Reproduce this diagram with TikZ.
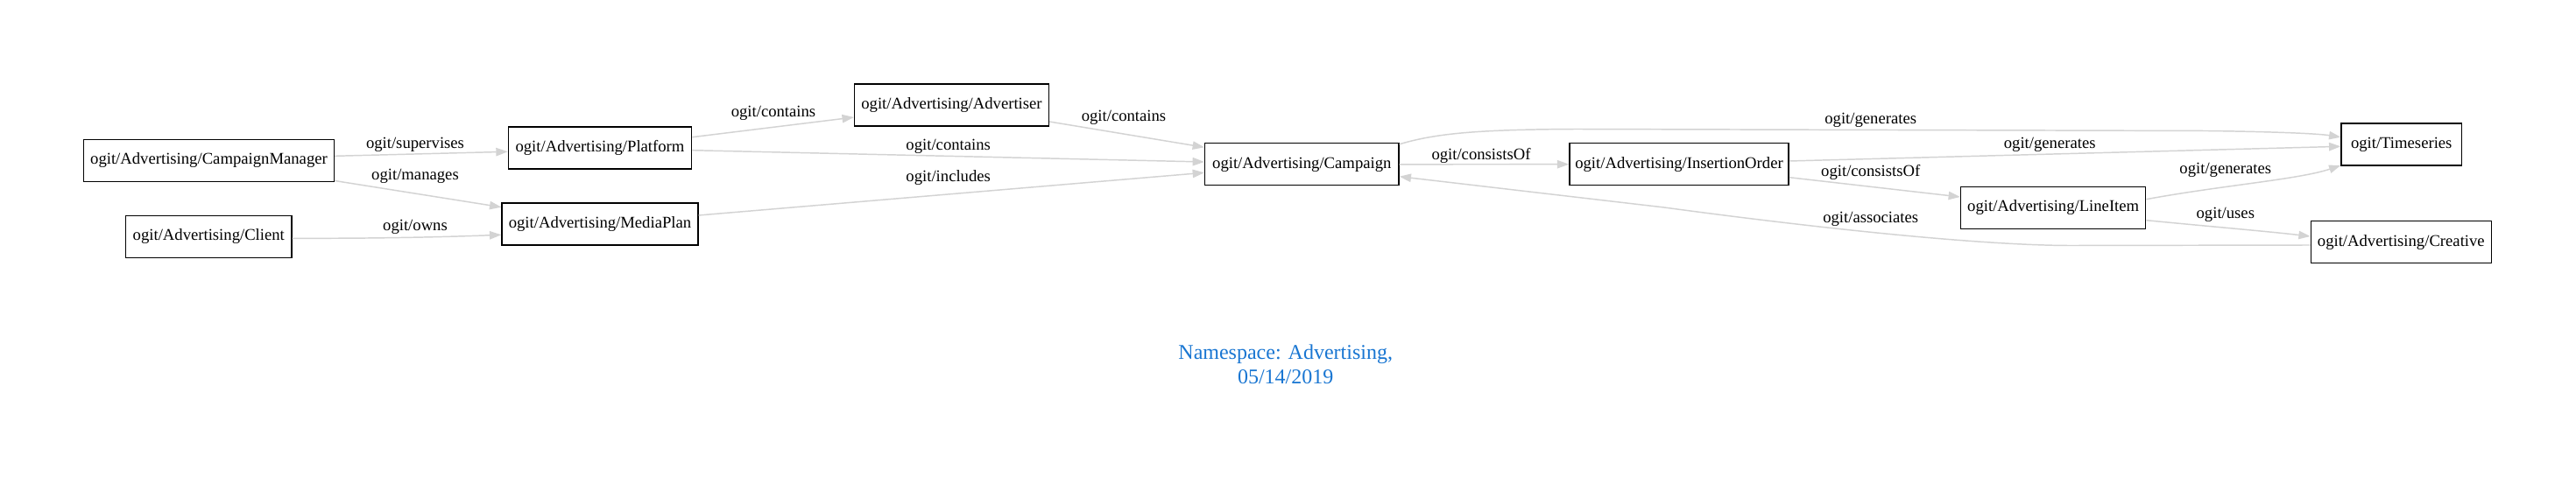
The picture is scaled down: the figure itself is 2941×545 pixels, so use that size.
\documentclass[tikz,border=0pt]{standalone}
\usepackage{fontspec}
\setmainfont{Liberation Serif}
\usetikzlibrary{arrows.meta,calc}
\definecolor{edgegray}{HTML}{D3D3D3}
\definecolor{titleblue}{HTML}{1976D2}
\begin{document}
\begin{tikzpicture}[x=0.75pt,y=-0.75pt,
  box/.style={draw=black,line width=1pt,minimum height=36pt,inner sep=0pt,font=\fontsize{14}{16}\selectfont},
  conn/.style={draw=edgegray,line width=1.1pt,-{Triangle[length=10pt,width=7pt]}},
  elabel/.style={font=\fontsize{14}{16}\selectfont,inner sep=0pt,text=black},
  titlestyle/.style={font=\fontsize{18}{21.2}\selectfont,text=titleblue,align=center,inner sep=0pt}]
\useasboundingbox[fill=white] (0,0) rectangle (2941,545);

% nodes
\node[box,minimum width=214.5pt] (cm) at (238.5,183.5) {ogit/Advertising/CampaignManager};
\node[box,minimum width=142pt] (client) at (238.3,270.5) {ogit/Advertising/Client};
\node[box,minimum width=157pt] (plat) at (685,169) {ogit/Advertising/Platform};
\node[box,minimum width=168pt] (media) at (685,256) {ogit/Advertising/MediaPlan};
\node[box,minimum width=166.5pt] (adv) at (1086.5,120) {ogit/Advertising/Advertiser};
\node[box,minimum width=166pt] (camp) at (1486.3,187.8) {ogit/Advertising/Campaign};
\node[box,minimum width=187.7pt] (io) at (1917,187.7) {ogit/Advertising/InsertionOrder};
\node[box,minimum width=103pt] (ts) at (2741.7,165) {ogit/Timeseries};
\node[box,minimum width=158.4pt] (li) at (2344.2,237.3) {ogit/Advertising/LineItem};
\node[box,minimum width=154.4pt] (cr) at (2741.3,276.7) {ogit/Advertising/Creative};

% connectors
\draw[conn] ($(cm.east)+(0,-5.2)$) -- ($(plat.west)+(0,4.3)$)
  node[elabel] at (474,165) {ogit/supervises};
\draw[conn] ($(cm.east)+(0,23)$) -- ($(media.west)+(0,-19.3)$)
  node[elabel] at (474,201.7) {ogit/manages};
\draw[conn] ($(client.east)+(0,1.8)$) .. controls (430,272.5) and (500,271) .. ($(media.west)+(0,12.3)$)
  node[elabel] at (474,259) {ogit/owns};
\draw[conn] ($(plat.east)+(0,-12.3)$) -- ($(adv.west)+(0,14)$)
  node[elabel] at (883,129) {ogit/contains};
\draw[conn] ($(plat.east)+(0,2.7)$) -- ($(camp.west)+(0,-2.8)$)
  node[elabel] at (1082.7,167.3) {ogit/contains};
\draw[conn] ($(media.east)+(0,-10)$) -- ($(camp.west)+(0,9.5)$)
  node[elabel] at (1082.7,202.7) {ogit/includes};
\draw[conn] ($(adv.east)+(0,19)$) -- ($(camp.west)+(0,-19.5)$)
  node[elabel] at (1283,134) {ogit/contains};
\draw[conn] (camp.east) -- (io.west)
  node[elabel] at (1691,178) {ogit/consistsOf};
\draw[conn] ($(camp.north east)+(0,1.7)$) .. controls (1640,152) and (1690,148) .. (1800,147.5)
  -- (2520,149.5) .. controls (2595,150.5) and (2645,152.5) .. ($(ts.west)+(0,-8.3)$)
  node[elabel] at (2135.7,137.3) {ogit/generates};
\draw[conn] ($(io.east)+(0,-3.7)$) -- ($(ts.west)+(0,2.3)$)
  node[elabel] at (2340.2,165.3) {ogit/generates};
\draw[conn] ($(io.east)+(0,15)$) -- ($(li.west)+(0,-12.3)$)
  node[elabel] at (2135.7,196.7) {ogit/consistsOf};
\draw[conn] ($(li.east)+(0,-9.6)$) .. controls (2535,212) and (2625,205) .. ($(ts.south west)+(0,-0.7)$)
  node[elabel] at (2540.8,194.3) {ogit/generates};
\draw[conn] ($(li.east)+(0,14.4)$) .. controls (2525,259) and (2585,264) .. ($(cr.west)+(0,-6.7)$)
  node[elabel] at (2540.8,245) {ogit/uses};
\draw[conn] ($(cr.west)+(0,3.3)$) -- (2364.8,280.5) .. controls (2265,280.5) and (2085,262) .. (1900,237)
  -- ($(camp.east)+(0,13.9)$)
  node[elabel] at (2135.7,250.7) {ogit/associates};

% title
\node[titlestyle] (title) at (1467.7,416) {Namespace: Advertising,\\05/14/2019};
\end{tikzpicture}
\end{document}
